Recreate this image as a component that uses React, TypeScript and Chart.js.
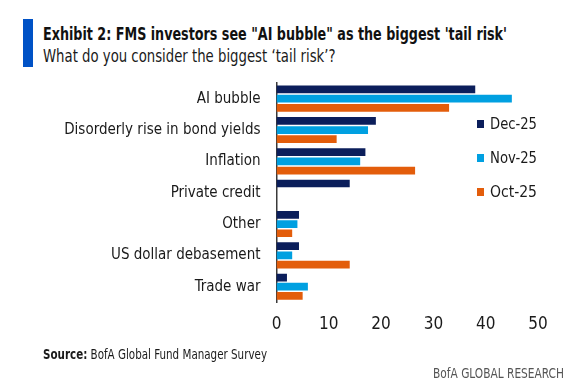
import React, { useEffect, useLayoutEffect, useRef } from "react";
import { Chart, registerables } from "chart.js";

Chart.register(...registerables);

const categories = [
  "AI bubble",
  "Disorderly rise in bond yields",
  "Inflation",
  "Private credit",
  "Other",
  "US dollar debasement",
  "Trade war",
];
const dec25 = [38, 19, 17, 14, 4.3, 4.3, 2];
const nov25 = [45, 17.5, 16, 0, 4, 3, 6];
const oct25 = [33, 11.5, 26.5, 0, 3, 14, 5];
const seriesNames = ["Dec-25", "Nov-25", "Oct-25"];
const seriesColors = ["#0B1E5B", "#00A0E1", "#E35D0B"];
const xTicks = [0, 10, 20, 30, 40, 50];

const FONT = '"DejaVu Sans Condensed", "Liberation Sans", sans-serif';

function FitText(props: { left: number; top: number; width: number; style: any; children: any }) {
  const ref = useRef<HTMLDivElement | null>(null);
  useLayoutEffect(() => {
    const el = ref.current;
    if (!el) return;
    el.style.transform = "none";
    const w = el.getBoundingClientRect().width;
    if (w > 0) el.style.transform = `scaleX(${props.width / w})`;
  }, [props.width]);
  return (
    <div
      ref={ref}
      style={{
        position: "absolute",
        left: props.left,
        top: props.top,
        whiteSpace: "nowrap",
        transformOrigin: "0 0",
        ...props.style,
      }}
    >
      {props.children}
    </div>
  );
}

export default function App() {
  const canvasRef = useRef<HTMLCanvasElement | null>(null);

  useEffect(() => {
    const canvas = canvasRef.current;
    if (!canvas) return;
    const chart = new Chart(canvas, {
      type: "bar",
      data: {
        labels: categories,
        datasets: [dec25, nov25, oct25].map((d, i) => ({
          label: seriesNames[i],
          data: d,
          backgroundColor: seriesColors[i],
          borderWidth: 0,
          categoryPercentage: 0.88,
          barPercentage: 0.84,
        })),
      },
      options: {
        indexAxis: "y",
        responsive: false,
        animation: false,
        layout: { padding: { left: 0, top: 83, right: 47, bottom: 0 } },
        plugins: { legend: { display: false }, tooltip: { enabled: false } },
        scales: {
          x: {
            min: 0,
            max: 50,
            afterBuildTicks: (s: any) => {
              s.ticks = xTicks.map((v) => ({ value: v }));
            },
            afterFit: (s: any) => {
              s.height = 384 - 302.4;
            },
            grid: { display: false, drawTicks: false },
            border: { display: false },
            ticks: {
              padding: 12,
              color: "#1a1a1a",
              font: { family: FONT, size: 17 },
            },
          },
          y: {
            afterFit: (s: any) => {
              s.width = 276.5;
            },
            grid: { color: "rgba(0,0,0,0)", drawTicks: false },
            border: { display: true, color: "#3a3a3a", width: 1.5 },
            ticks: {
              padding: 16,
              color: "#1a1a1a",
              font: { family: FONT, size: 15 },
            },
          },
        },
      },
    } as any);
    return () => chart.destroy();
  }, []);

  const legendY = [124.2, 158.3, 192];

  return (
    <div
      style={{
        position: "absolute",
        left: 0,
        top: 0,
        width: 585,
        height: 384,
        background: "#fff",
        fontFamily: FONT,
        color: "#1a1a1a",
        overflow: "hidden",
      }}
    >
      <div style={{ position: "absolute", left: 23, top: 19, width: 10, height: 48, background: "#0052C6" }} />
      <FitText left={42.5} top={24} width={464} style={{ fontSize: 17, fontWeight: "bold", lineHeight: "20px", color: "#111" }}>
        Exhibit 2: FMS investors see "AI bubble" as the biggest 'tail risk'
      </FitText>
      <FitText left={42.5} top={46} width={292.5} style={{ fontSize: 17, lineHeight: "20px", color: "#1a1a1a" }}>
        What do you consider the biggest ‘tail risk’?
      </FitText>
      <canvas ref={canvasRef} width={585} height={384} style={{ position: "absolute", left: 0, top: 0 }} />
      {seriesNames.map((n, i) => (
        <div key={n}>
          <div
            style={{
              position: "absolute",
              left: 476.5,
              top: legendY[i] - 4,
              width: 7.5,
              height: 8,
              background: seriesColors[i],
            }}
          />
          <FitText left={489.5} top={legendY[i] - 10} width={47} style={{ fontSize: 16, lineHeight: "20px" }}>
            {n}
          </FitText>
        </div>
      ))}
      <FitText left={43} top={346} width={224} style={{ fontSize: 13.5, lineHeight: "16px" }}>
        <b>Source:</b> BofA Global Fund Manager Survey
      </FitText>
      <FitText left={433} top={365} width={131} style={{ fontSize: 14, lineHeight: "16px", color: "#555" }}>
        BofA GLOBAL RESEARCH
      </FitText>
    </div>
  );
}
